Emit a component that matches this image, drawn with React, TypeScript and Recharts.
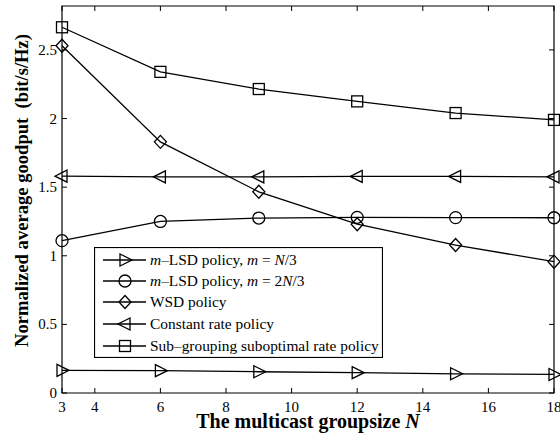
import React from "react";
import { LineChart, Line, XAxis, YAxis, ReferenceArea, Legend, Label } from "recharts";

// Multicast group size N on the horizontal axis
const groupSize = [3, 6, 9, 12, 15, 18];

// Normalized average goodput (bit/s/Hz) for each policy
const mLsdThird = [0.165, 0.163, 0.155, 0.148, 0.14, 0.135];
const mLsdTwoThirds = [1.11, 1.25, 1.275, 1.28, 1.278, 1.277];
const wsd = [2.53, 1.83, 1.466, 1.23, 1.078, 0.957];
const constantRate = [1.58, 1.575, 1.575, 1.578, 1.578, 1.575];
const subGrouping = [2.665, 2.34, 2.215, 2.125, 2.04, 1.99];

const xTicks = [3, 4, 6, 8, 10, 12, 14, 16, 18];
const yTicks = [0, 0.5, 1, 1.5, 2, 2.5];

const W = 560;
const H = 439;
const MARGIN = { top: 6, right: 6, bottom: 0, left: 0 };
const Y_AXIS_W = 62;
const X_AXIS_H = 46;
const PLOT_TOP = MARGIN.top;
const PLOT_RIGHT = W - MARGIN.right;
const Y_MAX = 2.82;
const FONT = "'Liberation Serif', 'Times New Roman', serif";

type Shape = "right" | "circle" | "diamond" | "left" | "square";

const series: { key: string; shape: Shape; values: number[]; label: React.ReactNode }[] = [
  {
    key: "mLsdThird",
    shape: "right",
    values: mLsdThird,
    label: (
      <>
        <tspan fontStyle="italic">m</tspan>
        <tspan>–LSD policy, </tspan>
        <tspan fontStyle="italic">m</tspan>
        <tspan> = </tspan>
        <tspan fontStyle="italic">N</tspan>
        <tspan>/3</tspan>
      </>
    ),
  },
  {
    key: "mLsdTwoThirds",
    shape: "circle",
    values: mLsdTwoThirds,
    label: (
      <>
        <tspan fontStyle="italic">m</tspan>
        <tspan>–LSD policy, </tspan>
        <tspan fontStyle="italic">m</tspan>
        <tspan> = 2</tspan>
        <tspan fontStyle="italic">N</tspan>
        <tspan>/3</tspan>
      </>
    ),
  },
  { key: "wsd", shape: "diamond", values: wsd, label: "WSD policy" },
  { key: "constantRate", shape: "left", values: constantRate, label: "Constant rate policy" },
  { key: "subGrouping", shape: "square", values: subGrouping, label: "Sub–grouping suboptimal rate policy" },
];

const data = groupSize.map((n, i) => {
  const row: Record<string, number> = { n };
  series.forEach((s) => {
    row[s.key] = s.values[i];
  });
  return row;
});

function Marker({ shape, cx, cy }: { shape: Shape; cx: number; cy: number }) {
  const common = { fill: "none", stroke: "#000", strokeWidth: 1.3 };
  switch (shape) {
    case "right":
      return <polygon points={`${cx - 5},${cy - 6} ${cx + 7},${cy} ${cx - 5},${cy + 6}`} {...common} />;
    case "left":
      return <polygon points={`${cx + 5},${cy - 6} ${cx - 7},${cy} ${cx + 5},${cy + 6}`} {...common} />;
    case "circle":
      return <circle cx={cx} cy={cy} r={6} {...common} />;
    case "diamond":
      return <polygon points={`${cx},${cy - 6.5} ${cx + 6},${cy} ${cx},${cy + 6.5} ${cx - 6},${cy}`} {...common} />;
    case "square":
    default:
      return <rect x={cx - 5.5} y={cy - 5.5} width={11} height={11} {...common} />;
  }
}

const XTick = (props: any) => {
  const { x, y, payload } = props;
  return (
    <g>
      <line x1={x} x2={x} y1={y} y2={y - 5} stroke="#000" strokeWidth={1} />
      <line x1={x} x2={x} y1={PLOT_TOP} y2={PLOT_TOP + 5} stroke="#000" strokeWidth={1} />
      <text x={x} y={y + 19} textAnchor="middle" fontFamily={FONT} fontSize={15} fill="#000">
        {payload.value}
      </text>
    </g>
  );
};

const YTick = (props: any) => {
  const { x, y, payload } = props;
  return (
    <g>
      <line x1={x} x2={x + 5} y1={y} y2={y} stroke="#000" strokeWidth={1} />
      <line x1={PLOT_RIGHT} x2={PLOT_RIGHT - 5} y1={y} y2={y} stroke="#000" strokeWidth={1} />
      <text x={x - 5} y={y + 5} textAnchor="end" fontFamily={FONT} fontSize={15} fill="#000">
        {payload.value}
      </text>
    </g>
  );
};

const LegendBox = () => {
  const boxW = 289;
  const boxH = 111;
  const rowY = [13, 34, 55, 77, 99];
  return (
    <svg width={boxW} height={boxH} style={{ display: "block" }}>
      <rect x={0.5} y={0.5} width={boxW - 1} height={boxH - 1} fill="#fff" stroke="#000" strokeWidth={1.2} />
      {series.map((s, i) => (
        <g key={s.key}>
          <line x1={9} x2={52} y1={rowY[i]} y2={rowY[i]} stroke="#000" strokeWidth={1.3} />
          <Marker shape={s.shape} cx={31} cy={rowY[i]} />
          <text x={56} y={rowY[i] + 5} fontFamily={FONT} fontSize={15.4} fill="#000">
            {s.label}
          </text>
        </g>
      ))}
    </svg>
  );
};

export default function App() {
  return (
    <div style={{ position: "absolute", left: 0, top: 0, background: "#fff" }}>
      <LineChart width={W} height={H} data={data} margin={MARGIN}>
        <XAxis
          dataKey="n"
          type="number"
          domain={[3, 18]}
          ticks={xTicks}
          interval={0}
          height={X_AXIS_H}
          axisLine={false}
          tickLine={false}
          tickSize={0}
          tickMargin={0}
          tick={<XTick />}
        >
          <Label
            content={(p: any) => {
              const vb = p.viewBox;
              return (
                <text
                  x={vb.x + vb.width / 2}
                  y={vb.y + 35}
                  textAnchor="middle"
                  fontFamily={FONT}
                  fontSize={20}
                  fontWeight="bold"
                  fill="#000"
                >
                  The multicast groupsize <tspan fontStyle="italic">N</tspan>
                </text>
              );
            }}
          />
        </XAxis>
        <YAxis
          type="number"
          domain={[0, Y_MAX]}
          ticks={yTicks}
          interval={0}
          width={Y_AXIS_W}
          axisLine={false}
          tickLine={false}
          tickSize={0}
          tickMargin={0}
          tick={<YTick />}
        >
          <Label
            content={(p: any) => {
              const vb = p.viewBox;
              const cx = 28;
              const cy = vb.y + vb.height / 2 - 9;
              return (
                <text
                  x={cx}
                  y={cy}
                  transform={`rotate(-90, ${cx}, ${cy})`}
                  textAnchor="middle"
                  fontFamily={FONT}
                  fontSize={18.6}
                  fontWeight="bold"
                  fill="#000"
                >
                  Normalized average goodput{"\u00a0\u00a0"}(bit/s/Hz)
                </text>
              );
            }}
          />
        </YAxis>
        <ReferenceArea x1={3} x2={18} y1={0} y2={Y_MAX} fill="none" fillOpacity={0} stroke="#000" strokeWidth={1.2} />
        {series.map((s) => (
          <Line
            key={s.key}
            dataKey={s.key}
            type="linear"
            stroke="#000"
            strokeWidth={1.3}
            isAnimationActive={false}
            activeDot={false}
            dot={(p: any) => <Marker key={`${s.key}-${p.index}`} shape={s.shape} cx={p.cx} cy={p.cy} />}
          />
        ))}
        <Legend
          layout="horizontal"
          verticalAlign="middle"
          align="center"
          content={() => <LegendBox />}
          wrapperStyle={{ left: 94, top: 247, width: 289, height: 111 }}
        />
      </LineChart>
    </div>
  );
}
